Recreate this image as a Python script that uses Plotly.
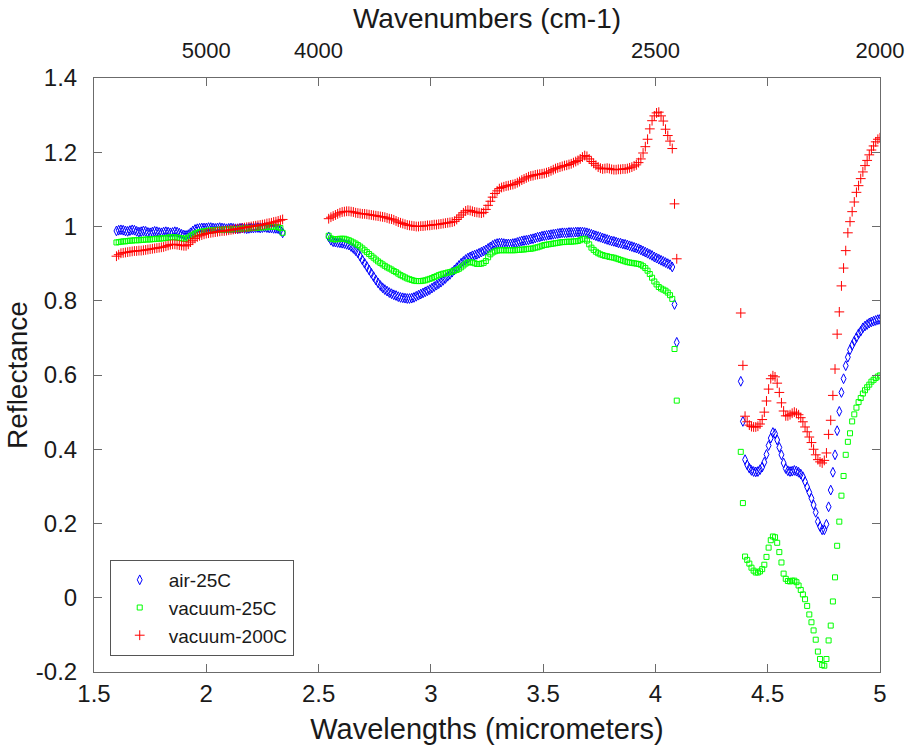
import numpy as np
import plotly.graph_objects as go

# ---- wavelength grids (micrometers) for the three measured segments ----
wl_left = np.round(np.linspace(1.60, 2.34, 75), 4)
wl_mid = np.round(np.linspace(2.545, 4.095, 156), 4)
wl_right = np.round(np.linspace(4.38, 5.00, 66), 4)

# ---- air-25C ----
air_left = [0.988, 0.990, 0.991, 0.990, 0.988, 0.987, 0.989, 0.991, 0.990, 0.987, 0.985,
            0.986, 0.988, 0.987, 0.984, 0.983, 0.985, 0.987, 0.986, 0.984, 0.983,
            0.985, 0.986, 0.985, 0.983, 0.984, 0.986, 0.985, 0.982, 0.979, 0.977,
            0.976, 0.978, 0.983, 0.988, 0.992, 0.994, 0.995, 0.996, 0.996, 0.996,
            0.997, 0.997, 0.996, 0.995, 0.996, 0.997, 0.996, 0.995, 0.994, 0.995,
            0.996, 0.995, 0.994, 0.994, 0.995, 0.996, 0.995, 0.994, 0.995, 0.996,
            0.996, 0.997, 0.997, 0.996, 0.997, 0.998, 0.997, 0.996, 0.996, 0.995,
            0.995, 0.994, 0.990, 0.983]
air_mid = [0.972, 0.963, 0.959, 0.958, 0.957, 0.956, 0.955, 0.954, 0.952, 0.950,
           0.946, 0.941, 0.935, 0.929, 0.920, 0.910, 0.901, 0.892, 0.883, 0.874,
           0.865, 0.856, 0.848, 0.841, 0.835, 0.830, 0.826, 0.822, 0.819, 0.816,
           0.814, 0.811, 0.809, 0.808, 0.807, 0.806, 0.806, 0.807, 0.809, 0.812,
           0.815, 0.818, 0.821, 0.824, 0.827, 0.830, 0.834, 0.838, 0.842, 0.846,
           0.850, 0.855, 0.860, 0.866, 0.871, 0.877, 0.883, 0.889, 0.895, 0.901,
           0.906, 0.911, 0.915, 0.918, 0.921, 0.923, 0.925, 0.928, 0.931, 0.934,
           0.937, 0.941, 0.945, 0.949, 0.952, 0.954, 0.955, 0.955, 0.954, 0.953,
           0.953, 0.953, 0.954, 0.955, 0.957, 0.959, 0.961, 0.962, 0.963, 0.964,
           0.966, 0.967, 0.969, 0.971, 0.972, 0.974, 0.975, 0.976, 0.977, 0.978,
           0.979, 0.980, 0.981, 0.982, 0.983, 0.983, 0.983, 0.984, 0.984, 0.984,
           0.985, 0.985, 0.985, 0.985, 0.984, 0.983, 0.981, 0.979, 0.977, 0.975,
           0.973, 0.971, 0.969, 0.967, 0.965, 0.963, 0.961, 0.960, 0.958, 0.956,
           0.955, 0.953, 0.952, 0.950, 0.948, 0.946, 0.944, 0.942, 0.940, 0.937,
           0.934, 0.931, 0.928, 0.925, 0.922, 0.918, 0.915, 0.912, 0.909, 0.906,
           0.903, 0.900, 0.897, 0.891, 0.790, 0.688]
air_right = [0.583, 0.475, 0.372, 0.358, 0.349, 0.343, 0.340, 0.339, 0.340, 0.345,
             0.352, 0.365, 0.386, 0.410, 0.430, 0.445, 0.442, 0.425, 0.405, 0.385,
             0.363, 0.348, 0.342, 0.340, 0.341, 0.343, 0.341, 0.338, 0.333, 0.326,
             0.313, 0.298, 0.284, 0.268, 0.250, 0.230, 0.205, 0.192, 0.183, 0.183,
             0.198, 0.245, 0.290, 0.338, 0.385, 0.450, 0.502, 0.553, 0.590, 0.625,
             0.648, 0.668, 0.680, 0.691, 0.701, 0.711, 0.718, 0.727, 0.732, 0.736,
             0.740, 0.743, 0.745, 0.747, 0.749, 0.750]

# ---- vacuum-25C ----
vac25_left = [0.957, 0.958, 0.959, 0.960, 0.960, 0.961, 0.962, 0.962, 0.963, 0.963, 0.963,
              0.964, 0.964, 0.965, 0.965, 0.965, 0.966, 0.966, 0.967, 0.967, 0.968,
              0.968, 0.969, 0.970, 0.971, 0.971, 0.971, 0.970, 0.969, 0.968, 0.967,
              0.967, 0.970, 0.974, 0.978, 0.981, 0.983, 0.985, 0.986, 0.987, 0.988,
              0.989, 0.989, 0.990, 0.990, 0.991, 0.991, 0.991, 0.992, 0.992, 0.992,
              0.992, 0.993, 0.993, 0.993, 0.994, 0.994, 0.995, 0.995, 0.995, 0.996,
              0.996, 0.996, 0.997, 0.997, 0.998, 0.998, 0.998, 0.999, 0.999, 0.999,
              0.999, 0.998, 0.996, 0.983]
vac25_mid = [0.975, 0.968, 0.966, 0.965, 0.966, 0.967, 0.967, 0.967, 0.965, 0.963,
             0.960, 0.957, 0.954, 0.950, 0.946, 0.941, 0.936, 0.931, 0.926, 0.921,
             0.916, 0.911, 0.906, 0.902, 0.898, 0.894, 0.890, 0.887, 0.884, 0.880,
             0.877, 0.873, 0.869, 0.866, 0.863, 0.860, 0.858, 0.856, 0.854, 0.853,
             0.853, 0.853, 0.854, 0.855, 0.857, 0.859, 0.861, 0.864, 0.866, 0.869,
             0.871, 0.873, 0.874, 0.876, 0.877, 0.879, 0.881, 0.883, 0.886, 0.890,
             0.895, 0.900, 0.903, 0.904, 0.903, 0.901, 0.899, 0.899, 0.900, 0.902,
             0.907, 0.917, 0.925, 0.930, 0.933, 0.935, 0.936, 0.936, 0.936, 0.936,
             0.936, 0.936, 0.936, 0.936, 0.937, 0.937, 0.938, 0.938, 0.939, 0.940,
             0.940, 0.941, 0.943, 0.944, 0.946, 0.948, 0.950, 0.951, 0.952, 0.953,
             0.954, 0.955, 0.956, 0.957, 0.958, 0.958, 0.959, 0.959, 0.959, 0.960,
             0.960, 0.961, 0.963, 0.966, 0.967, 0.962, 0.952, 0.943, 0.937, 0.932,
             0.928, 0.925, 0.923, 0.921, 0.920, 0.918, 0.917, 0.916, 0.914, 0.912,
             0.910, 0.908, 0.906, 0.904, 0.903, 0.902, 0.901, 0.900, 0.899, 0.897,
             0.893, 0.888, 0.881, 0.872, 0.862, 0.852, 0.844, 0.837, 0.833, 0.830,
             0.827, 0.822, 0.815, 0.805, 0.670, 0.531]
vac25_right = [0.393, 0.255, 0.111, 0.102, 0.092, 0.081, 0.073, 0.068, 0.068, 0.071,
               0.077, 0.089, 0.110, 0.135, 0.155, 0.165, 0.163, 0.148, 0.123, 0.095,
               0.065, 0.051, 0.045, 0.044, 0.046, 0.046, 0.042, 0.033, 0.021, 0.009,
               -0.004, -0.022, -0.045, -0.066, -0.088, -0.113, -0.145, -0.165, -0.181, -0.183,
               -0.165, -0.115, -0.075, -0.010, 0.055, 0.140, 0.205, 0.275, 0.328, 0.385,
               0.420, 0.443, 0.475, 0.494, 0.512, 0.527, 0.538, 0.550, 0.559, 0.567,
               0.574, 0.582, 0.587, 0.592, 0.596, 0.599]

# ---- vacuum-200C ----
vac200_left = [0.920, 0.924, 0.928, 0.929, 0.930, 0.931, 0.932, 0.933, 0.934, 0.934, 0.935,
               0.935, 0.936, 0.937, 0.938, 0.939, 0.940, 0.941, 0.942, 0.943, 0.944,
               0.945, 0.947, 0.949, 0.951, 0.952, 0.952, 0.951, 0.950, 0.949, 0.948,
               0.948, 0.952, 0.958, 0.963, 0.968, 0.972, 0.975, 0.977, 0.979, 0.981,
               0.982, 0.983, 0.984, 0.985, 0.986, 0.987, 0.988, 0.988, 0.989, 0.990,
               0.991, 0.992, 0.993, 0.994, 0.995, 0.996, 0.997, 0.998, 0.999, 1.000,
               1.001, 1.002, 1.003, 1.004, 1.005, 1.006, 1.008, 1.009, 1.010, 1.012,
               1.013, 1.015, 1.017, 1.019]
vac200_mid = [1.021, 1.025, 1.028, 1.031, 1.034, 1.037, 1.039, 1.040, 1.041, 1.041,
              1.040, 1.039, 1.037, 1.036, 1.035, 1.034, 1.034, 1.033, 1.032, 1.031,
              1.030, 1.029, 1.028, 1.027, 1.026, 1.025, 1.023, 1.021, 1.020, 1.018,
              1.015, 1.012, 1.010, 1.008, 1.006, 1.004, 1.003, 1.002, 1.001, 1.000,
              1.000, 1.001, 1.001, 1.002, 1.003, 1.003, 1.004, 1.005, 1.005, 1.006,
              1.007, 1.008, 1.009, 1.010, 1.011, 1.012, 1.014, 1.019, 1.025, 1.031,
              1.037, 1.042, 1.044, 1.043, 1.041, 1.039, 1.038, 1.037, 1.036, 1.038,
              1.046, 1.057, 1.068, 1.079, 1.089, 1.096, 1.102, 1.105, 1.107, 1.109,
              1.110, 1.112, 1.113, 1.115, 1.118, 1.121, 1.125, 1.128, 1.131, 1.134,
              1.136, 1.137, 1.139, 1.140, 1.141, 1.142, 1.143, 1.145, 1.147, 1.150,
              1.153, 1.156, 1.158, 1.160, 1.162, 1.164, 1.165, 1.167, 1.169, 1.172,
              1.175, 1.178, 1.182, 1.187, 1.191, 1.189, 1.182, 1.175, 1.170, 1.165,
              1.160, 1.157, 1.155, 1.156, 1.157, 1.156, 1.154, 1.153, 1.153, 1.154,
              1.154, 1.155, 1.155, 1.156, 1.158, 1.160, 1.163, 1.166, 1.172, 1.182,
              1.198, 1.215, 1.235, 1.263, 1.285, 1.298, 1.306, 1.308, 1.298, 1.284,
              1.262, 1.245, 1.230, 1.210, 1.061, 0.913]
vac200_right = [0.767, 0.626, 0.489, 0.474, 0.465, 0.461, 0.460, 0.460, 0.462, 0.468,
                0.480, 0.500, 0.530, 0.562, 0.590, 0.598, 0.595, 0.578, 0.553, 0.525,
                0.503, 0.490, 0.490, 0.493, 0.497, 0.500, 0.497, 0.493, 0.485, 0.474,
                0.460, 0.447, 0.433, 0.418, 0.400, 0.385, 0.372, 0.366, 0.363, 0.370,
                0.390, 0.440, 0.478, 0.545, 0.616, 0.710, 0.770, 0.840, 0.888, 0.935,
                0.983, 1.013, 1.040, 1.066, 1.092, 1.110, 1.129, 1.147, 1.164, 1.178,
                1.193, 1.206, 1.217, 1.228, 1.235, 1.239]

series_names = ["air-25C", "vacuum-25C", "vacuum-200C"]

# top axis: wavenumbers (cm-1) at wavelength = 10000 / wavenumber
wavenumber_ticks = [5000, 4000, 2500, 2000]
x_ticks = [1.5, 2, 2.5, 3, 3.5, 4, 4.5, 5]
y_ticks = [-0.2, 0, 0.2, 0.4, 0.6, 0.8, 1, 1.2, 1.4]
y_tick_text = ["-0.2", "0", "0.2", "0.4", "0.6", "0.8", "1", "1.2", "1.4"]

wl_all = np.concatenate([wl_left, wl_mid, wl_right])
series_vals = [
    air_left + air_mid + air_right,
    vac25_left + vac25_mid + vac25_right,
    vac200_left + vac200_mid + vac200_right,
]
styles = [
    dict(symbol="diamond-tall-open", size=7, color="#0000FF", line=dict(width=1, color="#0000FF")),
    dict(symbol="square-open", size=5, color="#00FF00", line=dict(width=1, color="#00FF00")),
    dict(symbol="cross-thin", size=7, color="#FF0000", line=dict(width=1, color="#FF0000")),
]

FONT = "Liberation Sans, Arial, Helvetica, sans-serif"
TICK = 24
TITLE = 28
fig = go.Figure()
for name, vals, mk in zip(series_names, series_vals, styles):
    fig.add_trace(go.Scatter(x=wl_all, y=vals, mode="markers", name=name, marker=mk))

# invisible trace that binds the top (wavenumber) axis
fig.add_trace(go.Scatter(x=[1.5, 5], y=[None, None], xaxis="x2", mode="markers",
                         showlegend=False, hoverinfo="skip"))

axis_line = "#6b6b6b"
fig.update_layout(
    width=905, height=749,
    margin=dict(l=94, r=25, t=78, b=77),
    paper_bgcolor="white", plot_bgcolor="white",
    font=dict(family=FONT, size=TICK, color="#1a1a1a"),
    showlegend=True,
    legend=dict(x=0.02, y=0.027, xanchor="left", yanchor="bottom",
                bgcolor="white", bordercolor="#555555", borderwidth=1,
                font=dict(family=FONT, size=19, color="#1a1a1a"),
                itemsizing="trace", itemwidth=48, tracegroupgap=0),
    xaxis=dict(range=[1.5, 5], tickvals=x_ticks, ticktext=[str(v) for v in x_ticks],
               ticks="inside", ticklen=8, tickcolor=axis_line, tickwidth=1,
               showline=True, linecolor=axis_line, linewidth=1, mirror="ticks",
               showgrid=False, zeroline=False, automargin=False,
               tickfont=dict(size=TICK), ticklabeloverflow="allow",
               title=dict(text="Wavelengths (micrometers)", font=dict(size=TITLE + 1), standoff=12)),
    xaxis2=dict(range=[1.5, 5], overlaying="x", side="top", anchor="y",
                tickvals=[10000 / w for w in wavenumber_ticks],
                ticktext=[str(w) for w in wavenumber_ticks],
                ticks="", showgrid=False, zeroline=False, showline=False, automargin=False,
                tickfont=dict(size=22), ticklabelstandoff=15, ticklabeloverflow="allow",
                title=dict(text="Wavenumbers (cm-1)", font=dict(size=TITLE), standoff=0)),
    yaxis=dict(range=[-0.2, 1.4], tickvals=y_ticks, ticktext=y_tick_text,
               ticks="inside", ticklen=8, tickcolor=axis_line, tickwidth=1,
               showline=True, linecolor=axis_line, linewidth=1, mirror="ticks",
               showgrid=False, zeroline=False, automargin=False,
               tickfont=dict(size=TICK), ticklabelstandoff=11,
               title=dict(text="Reflectance", font=dict(size=TITLE), standoff=0)),
)

fig.write_html("out.html")
